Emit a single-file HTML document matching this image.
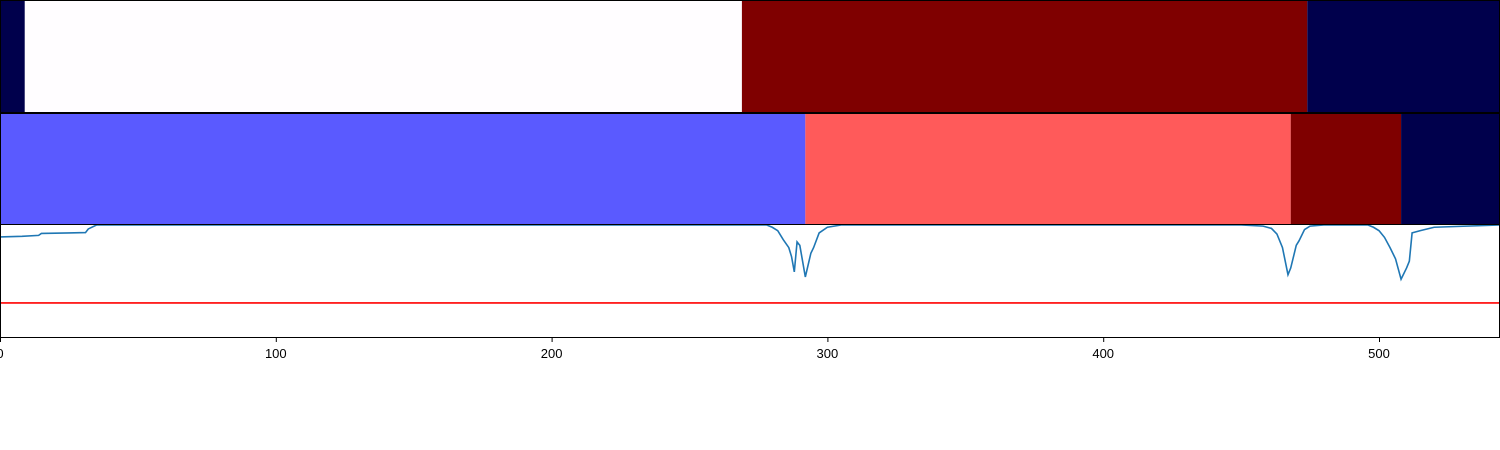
<!DOCTYPE html>
<html><head><meta charset="utf-8"><style>
body{margin:0;background:#fff;width:1500px;height:450px;overflow:hidden}
svg{display:block}
text{font-family:"Liberation Sans",sans-serif;font-size:13px}
</style></head><body>
<svg id="chart" width="1500" height="450" xmlns="http://www.w3.org/2000/svg"></svg>
<script>
const topStarts=[0,9,269,474];
const topColors=['#00004c','#fffdff','#7f0000','#00004c'];
const midStarts=[0,292,468,508];
const midColors=['#5a5aff','#ff5a5a','#7f0000','#00004c'];
const xMax=544;
const lineX=[0,8,14,15,25,31,32,35,278,280,282,284,286,287,288,289,290,291,292,294,295,297,300,305,450,458,461,463,465,467,468,470,471,473,475,480,496,498,500,502,504,506,508,510,511,512,515,520,544];
const lineY=[.894,.90,.908,.925,.93,.933,.965,1.0,1.0,.98,.95,.87,.80,.72,.585,.85,.82,.68,.54,.75,.80,.93,.98,1.0,1.0,.99,.97,.92,.80,.56,.62,.82,.86,.96,.99,1.0,1.0,.98,.95,.89,.80,.70,.52,.62,.68,.93,.95,.98,1.0];
const threshold=0.31;
const xTicks=[0,100,200,300,400,500];

const NS='http://www.w3.org/2000/svg';
const svg=document.getElementById('chart');
const W=1500;
function x(v){return v/xMax*W*(544/543.9);}
function X(v){return v*1379/500;}
function mk(t,a,p){const e=document.createElementNS(NS,t);for(const k in a)e.setAttribute(k,a[k]);(p||svg).appendChild(e);return e;}
function segs(starts,colors,y0,h,name){
  const g=mk('g',{});
  
  
  starts.forEach((s,i)=>{
    const e=i+1<starts.length?starts[i+1]:xMax;
    const r=mk('rect',{x:X(s),y:y0,width:Math.min(W,X(e))-X(s),height:h,fill:colors[i]},g);
    
    
  });
  const f=mk('rect',{x:0.5,y:y0+0.5,width:W-1,height:h-1,fill:'none',stroke:'#000','stroke-width':1},g);
  
  
}
segs(topStarts,topColors,0,113,'top-segmentation');
segs(midStarts,midColors,113,112,'mid-segmentation');
// line axes
const y0=225,y1=338;
function Y(v){return y1-v*113;}
const g=mk('g',{});


mk('clipPath',{id:'cp'},g);
mk('rect',{x:0,y:y0,width:W,height:y1-y0},document.getElementById('cp'));
const tl=mk('line',{x1:0,x2:W,y1:Y(threshold),y2:Y(threshold),stroke:'#ff0000','stroke-width':1.6},g);


const pl=mk('polyline',{points:lineX.map((v,i)=>X(v)+','+Y(lineY[i])).join(' '),fill:'none',stroke:'#1f77b4','stroke-width':1.6,'clip-path':'url(#cp)'},g);


const fr=mk('path',{d:`M0.5 ${y0} V${y1-0.5} H${W-0.5} V${y0}`,fill:'none',stroke:'#000','stroke-width':1},g);


xTicks.forEach(t=>{
  const tk=mk('line',{x1:X(t)+0.5,x2:X(t)+0.5,y1:y1,y2:y1+4,stroke:'#000'},g);
  
  
  const tx=mk('text',{x:X(t),y:y1+20,'text-anchor':'middle',fill:'#000'},g);
  tx.textContent=t;
  
  
});
</script>
</body></html>
